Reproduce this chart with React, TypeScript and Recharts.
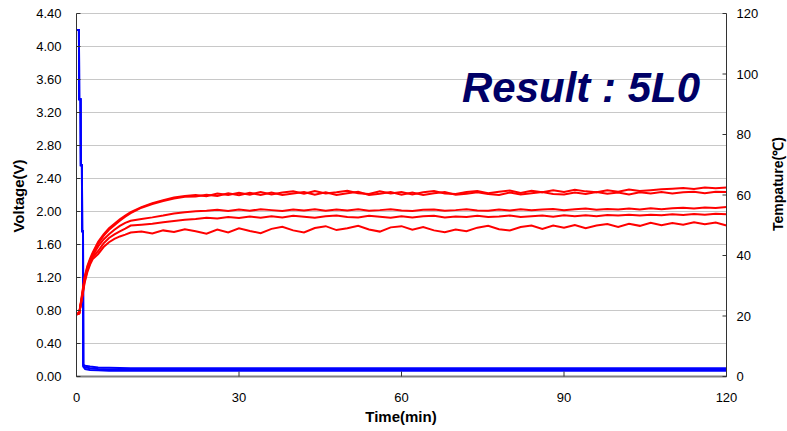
import React from 'react';
import { LineChart, Line, XAxis, YAxis, CartesianGrid, Customized } from 'recharts';

// time axis (min) for the temperature traces
const TIME_RED = [
  0, 0.5, 1, 1.5, 2, 2.5, 3, 4, 5, 6, 7, 8, 9, 10, 12, 14, 16, 18, 20,
  22, 24, 26, 28, 30, 32, 34, 36, 38, 40, 42, 44, 46, 48, 50, 52, 54, 56, 58, 60,
  62, 64, 66, 68, 70, 72, 74, 76, 78, 80, 82, 84, 86, 88, 90, 92, 94, 96, 98, 100,
  102, 104, 106, 108, 110, 112, 114, 116, 118, 120,
];

// temperature (°C), five cells
const TEMP_A = [
  20.5, 20.8, 27, 33, 36.5, 39, 41, 44.5, 47, 49, 50.5, 52, 53.2, 54.3, 56, 57.3, 58.3, 59.2, 59.7,
  60.0, 59.6, 60.5, 60.0, 60.7, 60.1, 61.0, 60.2, 60.8, 61.2, 60.4, 61.3, 60.5, 60.9, 61.4, 60.6, 60.3, 61.2, 60.5, 61.0,
  60.2, 60.9, 61.3, 60.5, 60.3, 61.0, 61.3, 60.6, 61.1, 61.5, 60.7, 61.4, 60.9, 61.6, 61.0, 61.7, 61.2, 60.9, 61.6, 61.1,
  61.8, 61.3, 61.6, 61.9, 62.1, 62.3, 62.0, 62.5, 62.2, 62.5,
];
const TEMP_B = [
  20.8, 21, 26.5, 32.5, 36, 38.5, 40.5, 44, 46.5, 48.5, 50, 51.5, 52.8, 54, 55.8, 57, 58, 58.8, 59.4,
  59.5, 60.1, 59.7, 60.6, 59.9, 60.7, 60.0, 60.8, 60.0, 60.5, 61.0, 60.1, 60.9, 60.0, 60.6, 61.1, 60.0, 60.4, 61.0, 60.1,
  60.8, 60.0, 60.6, 61.0, 60.1, 60.4, 60.9, 60.3, 60.0, 60.8, 60.2, 60.6, 61.0, 60.3, 60.2, 60.8, 60.3, 61.0, 60.4, 60.8,
  60.2, 60.9, 60.5, 61.0, 60.5, 60.9, 61.1, 60.6, 61.1, 61.0,
];
const TEMP_C = [
  20.6, 20.9, 26, 32, 35.5, 38, 40, 43, 45.3, 47, 48.5, 49.8, 50.8, 51.5, 52.1, 52.6, 53.2, 53.9, 54.3,
  54.6, 54.8, 55.1, 54.7, 55.2, 54.8, 55.3, 55.0, 54.7, 55.2, 54.9, 55.3, 54.8, 55.2, 54.9, 55.3, 54.8, 55.0, 55.3, 54.9,
  54.7, 55.1, 55.2, 54.8, 55.0, 55.3, 54.9, 54.8, 55.2, 54.9, 55.3, 55.0, 55.2, 55.4, 55.0, 55.3, 55.5, 55.1, 55.4, 55.2,
  55.5, 55.2, 55.6, 55.3, 55.6, 55.8, 55.5, 55.9, 55.7, 56.0,
];
const TEMP_D = [
  20.7, 21, 26, 31.5, 35, 37.5, 39.5, 41.5, 44.0, 45.8, 47, 48, 48.9, 49.9, 50.2, 50.5, 51.0, 51.4, 51.8,
  52.1, 52.5, 52.2, 52.7, 52.4, 52.9, 52.5, 53.0, 52.6, 53.1, 52.8, 52.5, 53.0, 53.2, 52.7, 52.6, 53.1, 52.8, 52.5, 53.0,
  52.6, 53.0, 53.1, 52.6, 52.9, 52.7, 53.1, 52.7, 52.9, 53.2, 52.7, 53.0, 53.2, 52.8, 53.3, 53.0, 53.3, 53.0, 53.4, 53.2,
  53.5, 53.2, 53.5, 53.3, 53.6, 53.4, 53.7, 53.5, 53.8, 53.6,
];
const TEMP_E = [
  20.5, 20.8, 25.5, 31, 34.5, 37, 38.8, 40.5, 42.8, 44.4, 45.5, 46.3, 46.9, 47.6, 47.9, 47.3, 48.3, 47.8, 48.7,
  48.0, 47.2, 48.6, 47.6, 49.0, 48.1, 47.4, 48.8, 49.5, 48.3, 47.6, 49.1, 49.7, 48.4, 49.0, 49.8, 48.6, 47.9, 49.3, 49.7,
  48.5, 49.4, 48.3, 47.7, 48.6, 48.0, 49.2, 49.8, 48.7, 48.3, 49.4, 49.9, 48.8, 49.9, 49.2, 50.1, 49.0, 49.9, 50.4, 49.4,
  50.5, 49.8, 50.8, 50.0, 50.7, 50.2, 51.0, 50.3, 50.9, 49.9,
];

// time axis (min) for the voltage traces
const TIME_BLUE = [0, 0.45, 0.5, 0.75, 0.8, 1.0, 1.05, 1.2, 1.25, 1.6, 2.5, 4, 6, 10, 20, 40, 60, 80, 100, 120];

// voltage (V)
const VOLT_A = [4.2, 4.2, 3.36, 3.36, 2.56, 2.56, 1.76, 1.76, 0.14, 0.13, 0.12, 0.11, 0.105, 0.1, 0.1, 0.1, 0.1, 0.1, 0.1, 0.1];
const VOLT_B = [4.2, 4.2, 3.36, 3.36, 2.56, 2.56, 1.76, 1.76, 0.13, 0.11, 0.1, 0.09, 0.085, 0.085, 0.085, 0.085, 0.085, 0.085, 0.085, 0.085];
const VOLT_C = [4.2, 4.2, 3.36, 3.36, 2.56, 2.56, 1.76, 1.76, 0.12, 0.09, 0.08, 0.075, 0.07, 0.07, 0.07, 0.07, 0.07, 0.07, 0.07, 0.07];

const V_TICKS = [0, 0.4, 0.8, 1.2, 1.6, 2.0, 2.4, 2.8, 3.2, 3.6, 4.0, 4.4];
const T_TICKS = [0, 20, 40, 60, 80, 100, 120];
const X_TICKS = [0, 30, 60, 90, 120];

const redRows = TIME_RED.map((t, i) => ({ t, a: TEMP_A[i], b: TEMP_B[i], c: TEMP_C[i], d: TEMP_D[i], e: TEMP_E[i] }));
const blueRows = TIME_BLUE.map((t, i) => ({ t, a: VOLT_A[i], b: VOLT_B[i], c: VOLT_C[i] }));

const FONT = '"Liberation Sans", Arial, sans-serif';

const LeftTick = (p: any) => {
  const ax = p.x + 15;
  return (
    <g>
      <line x1={ax} x2={ax + 4} y1={p.y} y2={p.y} stroke="#333" />
      <text x={p.x} y={p.y} dy={4.5} textAnchor="end" fontSize={13} fontFamily={FONT} fill="#000">
        {Number(p.payload.value).toFixed(2)}
      </text>
    </g>
  );
};

const RightTick = (p: any) => {
  const ax = p.x - 10;
  return (
    <g>
      <line x1={ax} x2={ax - 4} y1={p.y} y2={p.y} stroke="#333" />
      <text x={p.x} y={p.y} dy={4.5} textAnchor="start" fontSize={13} fontFamily={FONT} fill="#000">
        {p.payload.value}
      </text>
    </g>
  );
};

const BottomTick = (p: any) => {
  const ay = p.y - 10;
  return (
    <g>
      <line x1={p.x} x2={p.x} y1={ay} y2={ay - 5} stroke="#333" />
      <text x={p.x} y={p.y} dy={15} textAnchor="middle" fontSize={13} fontFamily={FONT} fill="#000">
        {p.payload.value}
      </text>
    </g>
  );
};

const Titles = () => (
  <g>
    <text x={462} y={102} fontSize={42} fontWeight="bold" fontStyle="italic" fontFamily={FONT} fill="#000066">
      Result : 5L0
    </text>
    <text x={24} y={196} transform="rotate(-90, 24, 196)" textAnchor="middle" fontSize={15} fontWeight="bold" fontFamily={FONT}>
      Voltage(V)
    </text>
    <text x={783} y={184} transform="rotate(-90, 783, 184)" textAnchor="middle" fontSize={14} fontWeight="bold" fontFamily={FONT}>
      Tempature(℃)
    </text>
    <text x={401} y={422} textAnchor="middle" fontSize={15} fontWeight="bold" fontFamily={FONT}>
      Time(min)
    </text>
  </g>
);

export default function App() {
  return (
    <div style={{ position: 'absolute', left: 0, top: 0, background: '#fff' }}>
      <LineChart width={787} height={431} margin={{ top: 13.5, right: 0.5, bottom: 0.5, left: 0.5 }}>
        <CartesianGrid yAxisId="left" vertical={false} stroke="#c8c8c8" />
        <XAxis
          type="number"
          dataKey="t"
          domain={[0, 120]}
          ticks={X_TICKS}
          height={54}
          tickSize={0}
          tickMargin={10}
          tick={<BottomTick />}
          axisLine={{ stroke: '#808080', strokeWidth: 2 }}
        />
        <YAxis
          yAxisId="left"
          domain={[0, 4.4]}
          ticks={V_TICKS}
          width={76}
          tickSize={0}
          tickMargin={15}
          tick={<LeftTick />}
          axisLine={{ stroke: '#333' }}
        />
        <YAxis
          yAxisId="right"
          orientation="right"
          domain={[0, 120]}
          ticks={T_TICKS}
          width={60}
          tickSize={0}
          tickMargin={10}
          tick={<RightTick />}
          axisLine={{ stroke: '#333' }}
        />
        {['a', 'b', 'c'].map((k) => (
          <Line key={`v-${k}`} yAxisId="left" data={blueRows} dataKey={k} type="linear" stroke="#0000ff" strokeWidth={2} dot={false} isAnimationActive={false} />
        ))}
        {['a', 'b', 'c', 'd', 'e'].map((k) => (
          <Line key={`t-${k}`} yAxisId="right" data={redRows} dataKey={k} type="linear" stroke="#ff0000" strokeWidth={2} dot={false} isAnimationActive={false} />
        ))}
        <Customized component={Titles} />
      </LineChart>
    </div>
  );
}
